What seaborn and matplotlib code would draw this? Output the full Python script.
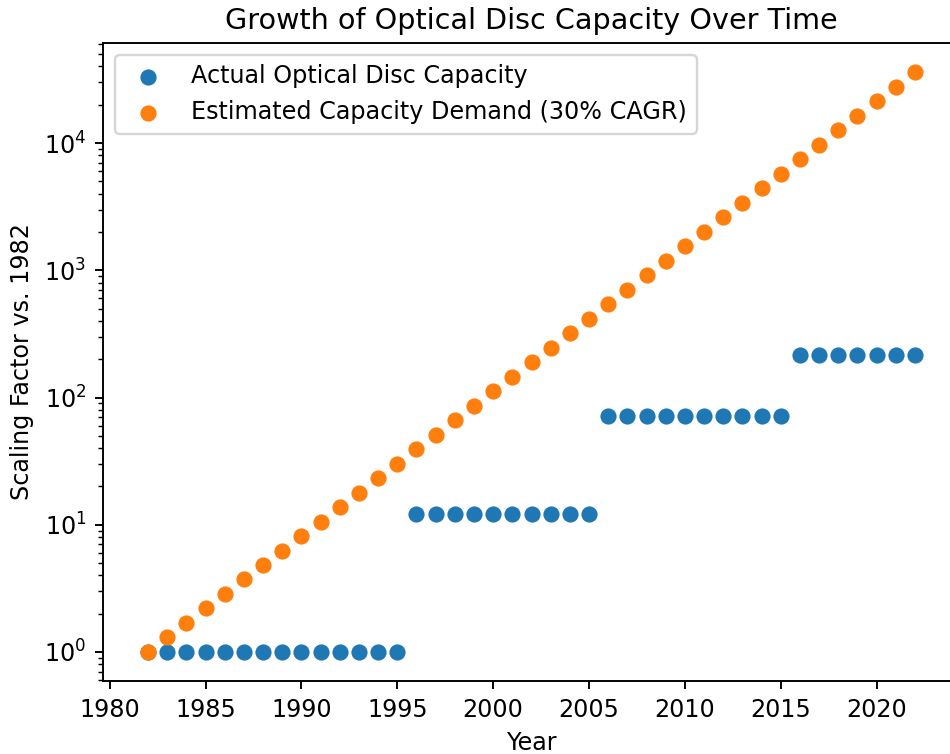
import matplotlib
matplotlib.use("Agg")
import matplotlib.pyplot as plt
import seaborn as sns
import pandas as pd

years = list(range(1982, 2023))

# Capacity relative to a 1982 CD (~0.7 GB): CD, DVD-DL, BD-DL, BDXL
actual_capacity = (
    [1.0] * 14
    + [12.1] * 10
    + [71.4] * 10
    + [214.3] * 7
)

# Demand growing at 30% per year from the 1982 baseline
estimated_demand = [
    1.0, 1.3, 1.69, 2.197, 2.856, 3.713, 4.827, 6.275, 8.157, 10.60,
    13.79, 17.92, 23.30, 30.29, 39.37, 51.19, 66.54, 86.50, 112.5, 146.2,
    190.0, 247.0, 321.2, 417.5, 542.8, 705.6, 917.3, 1192.5, 1550.3, 2015.4,
    2620.0, 3406.0, 4427.8, 5756.1, 7483.0, 9727.9, 12646.2, 16440.0,
    21372.0, 27783.6, 36118.7,
]

series_labels = ["Actual Optical Disc Capacity", "Estimated Capacity Demand (30% CAGR)"]
title = "Growth of Optical Disc Capacity Over Time"

df_actual = pd.DataFrame({"Year": years, "Scale": actual_capacity})
df_demand = pd.DataFrame({"Year": years, "Scale": estimated_demand})

dpi = 172
fig = plt.figure(figsize=(951 / dpi, 754 / dpi), dpi=dpi)
ax = fig.add_axes([103 / 951, 73 / 754, (960 - 103) / 951, (681 - 43) / 754])

palette = sns.color_palette("tab10")
sns.scatterplot(data=df_actual, x="Year", y="Scale", ax=ax, s=46,
                color=palette[0], linewidth=0, label=series_labels[0])
sns.scatterplot(data=df_demand, x="Year", y="Scale", ax=ax, s=46,
                color=palette[1], linewidth=0, label=series_labels[1])

ax.set_yscale("log")
ax.set_xlim(1979.65, 2024.35)
ax.set_ylim(0.5916, 61100)
ax.set_xticks([1980, 1985, 1990, 1995, 2000, 2005, 2010, 2015, 2020])

ax.set_xlabel("Year")
ax.set_ylabel("Scaling Factor vs. 1982")
ax.set_title(title, fontsize=12)
ax.legend(loc="upper left")

fig.savefig("out.png", dpi=dpi)
